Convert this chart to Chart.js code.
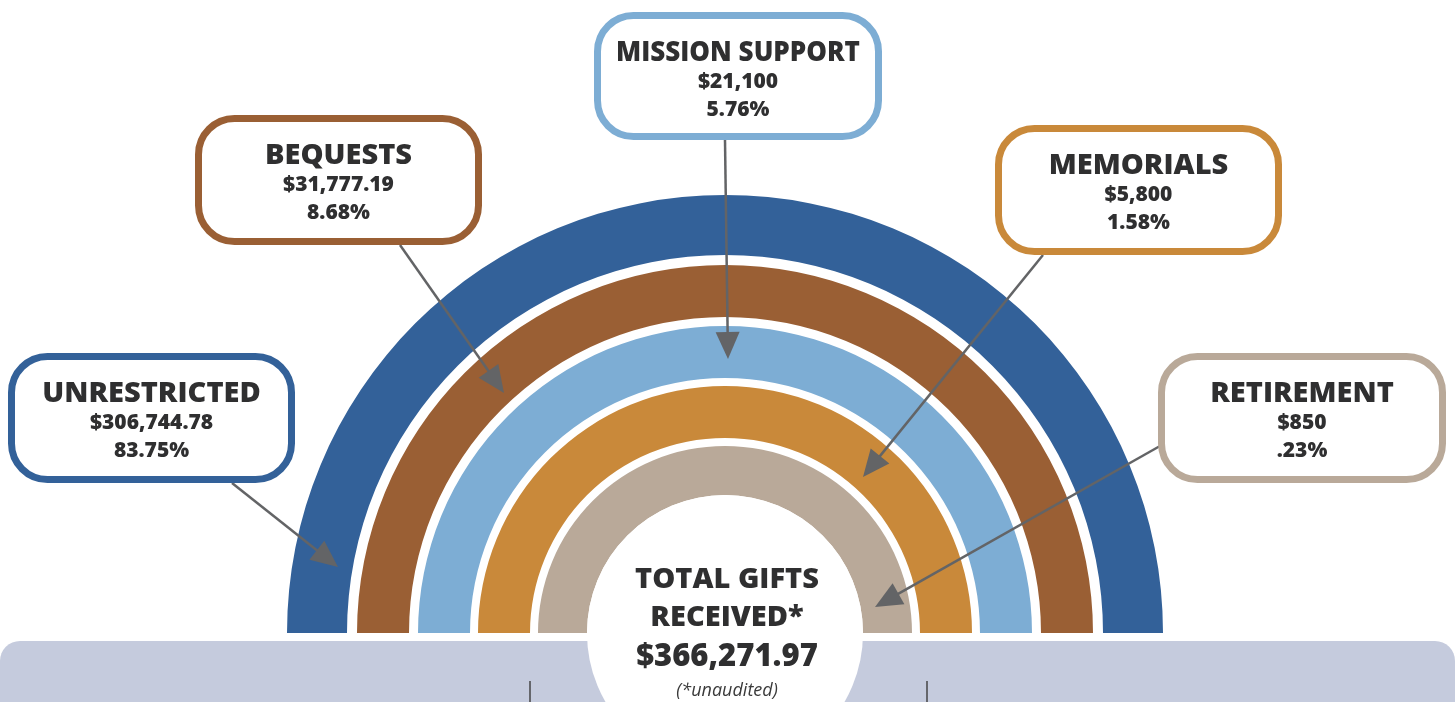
<!DOCTYPE html>
<html>
<head>
<meta charset="utf-8">
<script src="https://cdn.jsdelivr.net/npm/chart.js@4.4.1/dist/chart.umd.min.js"></script>
<style>
  html, body { margin: 0; padding: 0; background: #fff; overflow: hidden; }
  #wrap { width: 1455px; height: 702px; position: relative; }
</style>
</head>
<body>
<div id="wrap"><canvas id="gifts" width="1455" height="702"></canvas></div>
<script>
// gift categories, outermost ring first
const categories = ['UNRESTRICTED', 'BEQUESTS', 'MISSION SUPPORT', 'MEMORIALS', 'RETIREMENT'];
const amounts = [306744.78, 31777.19, 21100, 5800, 850];
const amountLabels = ['$306,744.78', '$31,777.19', '$21,100', '$5,800', '$850'];
const percentLabels = ['83.75%', '8.68%', '5.76%', '1.58%', '.23%'];
const totalLabel = '$366,271.97';

const ringColors = ['#336199', '#9a5f34', '#7dadd4', '#c9893a', '#b9a999'];
const ringWeights = [60, 52, 52, 52, 49];
const gapWeights = [10, 9, 8, 8];

// callout boxes (outer box edges) and arrow start -> tip
const callouts = [
  { x: 8, y: 353, w: 287, h: 130, from: [232, 483], to: [338, 567] },
  { x: 195, y: 115, w: 287, h: 130, from: [400, 245], to: [504, 393] },
  { x: 594, y: 12, w: 288, h: 128, from: [725, 140], to: [728, 359] },
  { x: 995, y: 125, w: 287, h: 130, from: [1043, 255], to: [863, 477] },
  { x: 1158, y: 353, w: 288, h: 130, from: [1160, 446], to: [875, 607] }
];

const textColor = '#2f2f30';
const arrowColor = '#636466';
const panelColor = '#c5cbdd';
const fontFamily = '"Open Sans", "DejaVu Sans", sans-serif';

const roundRect = (ctx, x, y, w, h, r) => {
  ctx.beginPath();
  ctx.moveTo(x + r, y);
  ctx.lineTo(x + w - r, y);
  ctx.arcTo(x + w, y, x + w, y + r, r);
  ctx.lineTo(x + w, y + h - r);
  ctx.arcTo(x + w, y + h, x + w - r, y + h, r);
  ctx.lineTo(x + r, y + h);
  ctx.arcTo(x, y + h, x, y + h - r, r);
  ctx.lineTo(x, y + r);
  ctx.arcTo(x, y, x + r, y, r);
  ctx.closePath();
};

const drawArrow = (ctx, from, to) => {
  const ang = Math.atan2(to[1] - from[1], to[0] - from[0]);
  const len = 27;
  const half = 12;
  const bx = to[0] - Math.cos(ang) * len;
  const by = to[1] - Math.sin(ang) * len;
  ctx.strokeStyle = arrowColor;
  ctx.lineWidth = 2.5;
  ctx.beginPath();
  ctx.moveTo(from[0], from[1]);
  ctx.lineTo(bx + Math.cos(ang) * 4, by + Math.sin(ang) * 4);
  ctx.stroke();
  ctx.fillStyle = arrowColor;
  ctx.beginPath();
  ctx.moveTo(to[0], to[1]);
  ctx.lineTo(bx - Math.sin(ang) * half, by + Math.cos(ang) * half);
  ctx.lineTo(bx + Math.sin(ang) * half, by - Math.cos(ang) * half);
  ctx.closePath();
  ctx.fill();
};

const backdropPlugin = {
  id: 'backdrop',
  beforeDraw(chart) {
    const ctx = chart.ctx;
    ctx.save();
    ctx.fillStyle = '#fff';
    ctx.fillRect(0, 0, chart.width, chart.height);
    ctx.fillStyle = panelColor;
    roundRect(ctx, 0, 641, chart.width, 120, 20);
    ctx.fill();
    ctx.strokeStyle = '#444';
    ctx.lineWidth = 1.5;
    [530, 927].forEach(x => {
      ctx.beginPath();
      ctx.moveTo(x, 681);
      ctx.lineTo(x, 702);
      ctx.stroke();
    });
    ctx.restore();
  }
};

const calloutPlugin = {
  id: 'callouts',
  afterDatasetsDraw(chart) {
    const ctx = chart.ctx;
    const metas = chart.getSortedVisibleDatasetMetas();
    const innerMeta = metas.filter(m => m.data.length).pop();
    const inner = innerMeta.data[0];
    ctx.save();

    // white centre disc over the panel
    ctx.fillStyle = '#fff';
    ctx.beginPath();
    ctx.arc(inner.x, inner.y, inner.innerRadius, 0, Math.PI * 2);
    ctx.fill();

    ctx.textAlign = 'center';
    ctx.textBaseline = 'alphabetic';
    ctx.fillStyle = textColor;
    const cx = inner.x + 2;
    ctx.font = `800 29px ${fontFamily}`;
    ctx.fillText('TOTAL GIFTS', cx, 588);
    ctx.fillText('RECEIVED*', cx, 626);
    ctx.font = `800 31px ${fontFamily}`;
    ctx.fillText(totalLabel, cx, 666);
    ctx.font = `italic 400 18px ${fontFamily}`;
    ctx.fillStyle = '#3a3a3a';
    ctx.fillText('(*unaudited)', cx, 696);

    callouts.forEach((c, i) => {
      drawArrow(ctx, c.from, c.to);
      ctx.fillStyle = '#fff';
      ctx.strokeStyle = ringColors[i];
      ctx.lineWidth = 7;
      roundRect(ctx, c.x + 3.5, c.y + 3.5, c.w - 7, c.h - 7, 36);
      ctx.fill();
      ctx.stroke();

      const mx = c.x + c.w / 2;
      ctx.fillStyle = textColor;
      ctx.font = `800 29px ${fontFamily}`;
      ctx.fillText(categories[i], mx, c.y + 49, 244);
      ctx.font = `800 21px ${fontFamily}`;
      ctx.fillText(amountLabels[i], mx, c.y + 76);
      ctx.fillText(percentLabels[i], mx, c.y + 104);
    });
    ctx.restore();
  }
};

// rings interleaved with empty spacer rings for the white gaps
const datasets = [];
categories.forEach((name, i) => {
  datasets.push({
    label: name,
    data: [amounts[i]],
    backgroundColor: ringColors[i],
    borderWidth: 0,
    hoverOffset: 0,
    weight: ringWeights[i]
  });
  if (i < gapWeights.length) {
    datasets.push({ label: 'gap', data: [], weight: gapWeights[i] });
  }
});

new Chart(document.getElementById('gifts'), {
  type: 'doughnut',
  data: { labels: categories, datasets },
  options: {
    responsive: false,
    animation: false,
    events: [],
    circumference: 180,
    rotation: -90,
    radius: 438,
    cutout: (138 / 438 * 100).toFixed(3) + '%',
    layout: { padding: { top: 126, bottom: 0, left: 0, right: 5 } },
    plugins: {
      legend: { display: false },
      tooltip: { enabled: false }
    }
  },
  plugins: [backdropPlugin, calloutPlugin]
});
</script>
</body>
</html>
